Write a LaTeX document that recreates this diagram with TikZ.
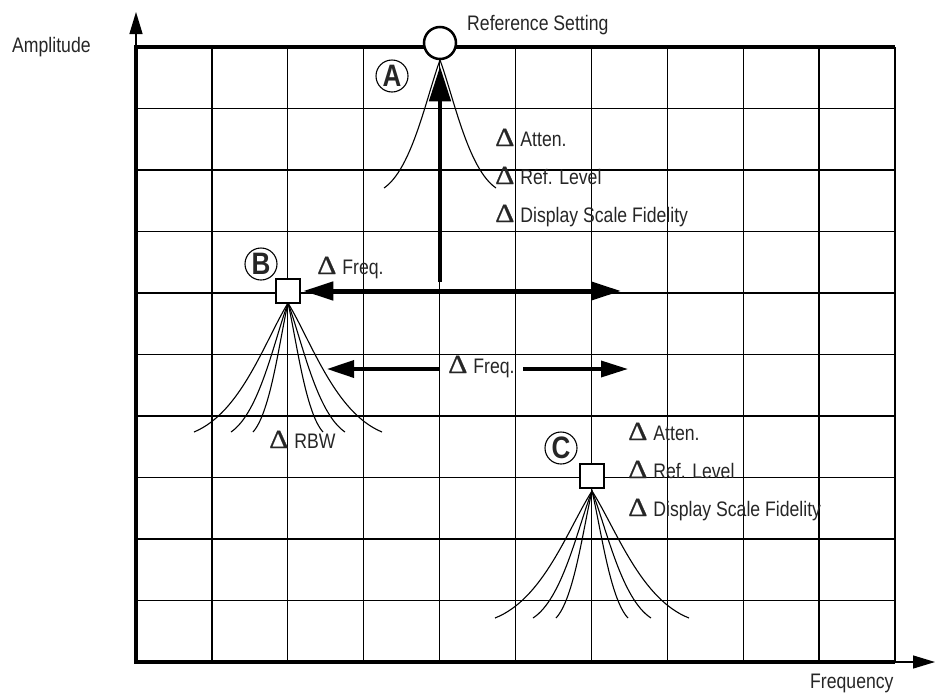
\documentclass[tikz,border=0pt]{standalone}
\usepackage[no-math]{fontspec}
\setmainfont[FakeStretch=0.84]{Liberation Sans}
\newfontfamily\deltafont[FakeBold=0.8, FakeStretch=1.15]{Liberation Serif}
\usetikzlibrary{arrows.meta}

% delta sign in front of a label
\newcommand{\dlt}{{\deltafont\fontsize{26}{26}\selectfont Δ}\hspace{6pt}}
% one response curve: apex x, apex y, half width, height
\newcommand{\peakfan}[4]{%
  \draw[peak] ({#1-#3},{#2+#4}) .. controls ({#1-0.5*#3},{#2+0.85*#4}) and ({#1-0.25*#3},{#2+0.3*#4}) .. (#1,#2)
    .. controls ({#1+0.25*#3},{#2+0.3*#4}) and ({#1+0.5*#3},{#2+0.85*#4}) .. ({#1+#3},{#2+#4});}

\tikzset{
  gridline/.style={line width=1.3pt},
  frameline/.style={line width=4pt, line join=miter},
  axis/.style={line width=1.3pt, -{Triangle[length=22pt,width=13pt]}},
  peak/.style={line width=1.1pt},
  bigarrow/.style={line width=4.5pt},
  txt/.style={inner sep=0pt, anchor=base west, text=black!85, font=\fontsize{21}{24}\selectfont},
  sqmark/.style={draw, line width=2.5pt, fill=white, minimum size=24pt, inner sep=0pt},
  refmark/.style={draw, circle, line width=2.5pt, fill=white, minimum size=32pt, inner sep=0pt},
  lettertag/.style={draw, circle, line width=1.1pt, minimum size=32pt, inner sep=0pt, text=black!85,
    font=\bfseries\fontsize{31}{31}\selectfont},
}

\begin{document}
\begin{tikzpicture}[x=1pt, y=-1pt]
    \useasboundingbox (0,0) rectangle (937,694);

    % Grid
    \foreach \i in {1,...,9}
        \draw[gridline] ({136+75.9*\i},47) -- ({136+75.9*\i},662);
    \foreach \j in {1,...,9}
        \draw[gridline] (136,{47+61.5*\j}) -- (895,{47+61.5*\j});
    \draw[gridline] (895,47) -- (895,662);
    \draw[frameline] (895,47) -- (136,47) -- (136,662) -- (895,662);

    % Axes
    \coordinate (ytop) at (136,12);
    \coordinate (xend) at (935,662);
    \draw[axis] (136,47) -- (ytop);
    \draw[axis] (895,662) -- (xend);
    \node[txt] (amp) at (12,52) {Amplitude};
    \node[txt] (freqlab) at (810,688) {Frequency};

    % Response curves
    \peakfan{440}{60}{56}{128}
    \foreach \w in {94,57,35}
        \peakfan{288}{303}{\w}{129};
    \foreach \w in {97,59,36}
        \peakfan{592}{491}{\w}{127};

    % Markers
    \node[refmark] (ref) at (440,43) {};
    \node[sqmark] (sqB) at (288,291) {};
    \node[sqmark] (sqC) at (592,476) {};
    \node[lettertag] (tagA) at (392,76) {A};
    \node[lettertag] (tagB) at (261,264) {B};
    \node[lettertag] (tagC) at (561,448) {C};
    \node[txt] (reftxt) at (467,30) {Reference Setting};

    % Level change to A
    \coordinate (aBase) at (440,282);
    \draw[bigarrow, -{Triangle[length=35pt,width=21pt]}] (aBase) -- ([yshift=-6pt]ref.south);
    \node[txt] (aAtt) at (495,146) {\dlt Atten.};
    \node[txt] (aRef) at (495,184) {\dlt Ref. Level};
    \node[txt] (aDsf) at (495,222) {\dlt Display Scale Fidelity};

    % Frequency change to B
    \coordinate (bRight) at (621,291);
    \draw[bigarrow, {Triangle[length=30pt,width=18pt]}-{Triangle[length=30pt,width=18pt]}]
        ([xshift=2pt]sqB.east) -- (bRight);
    \node[txt] (bFrq) at (317,274) {\dlt Freq.};
    \node[txt] (bRbw) at (269,448) {\dlt RBW};

    % Frequency change to C
    \node[txt] (fq2) at (448,373) {\dlt Freq.};
    \coordinate (f2Lstart) at (440,369);
    \coordinate (f2L) at (327,369);
    \coordinate (f2Rstart) at (523,369);
    \coordinate (f2R) at (628,369);
    \draw[line width=3.5pt, -{Triangle[length=27pt,width=17pt]}] (f2Lstart) -- (f2L);
    \draw[line width=3.5pt, -{Triangle[length=27pt,width=16pt]}] (f2Rstart) -- (f2R);
    \node[txt] (cAtt) at (628,440) {\dlt Atten.};
    \node[txt] (cRef) at (628,478) {\dlt Ref. Level};
    \node[txt] (cDsf) at (628,516) {\dlt Display Scale Fidelity};
\end{tikzpicture}
\end{document}
